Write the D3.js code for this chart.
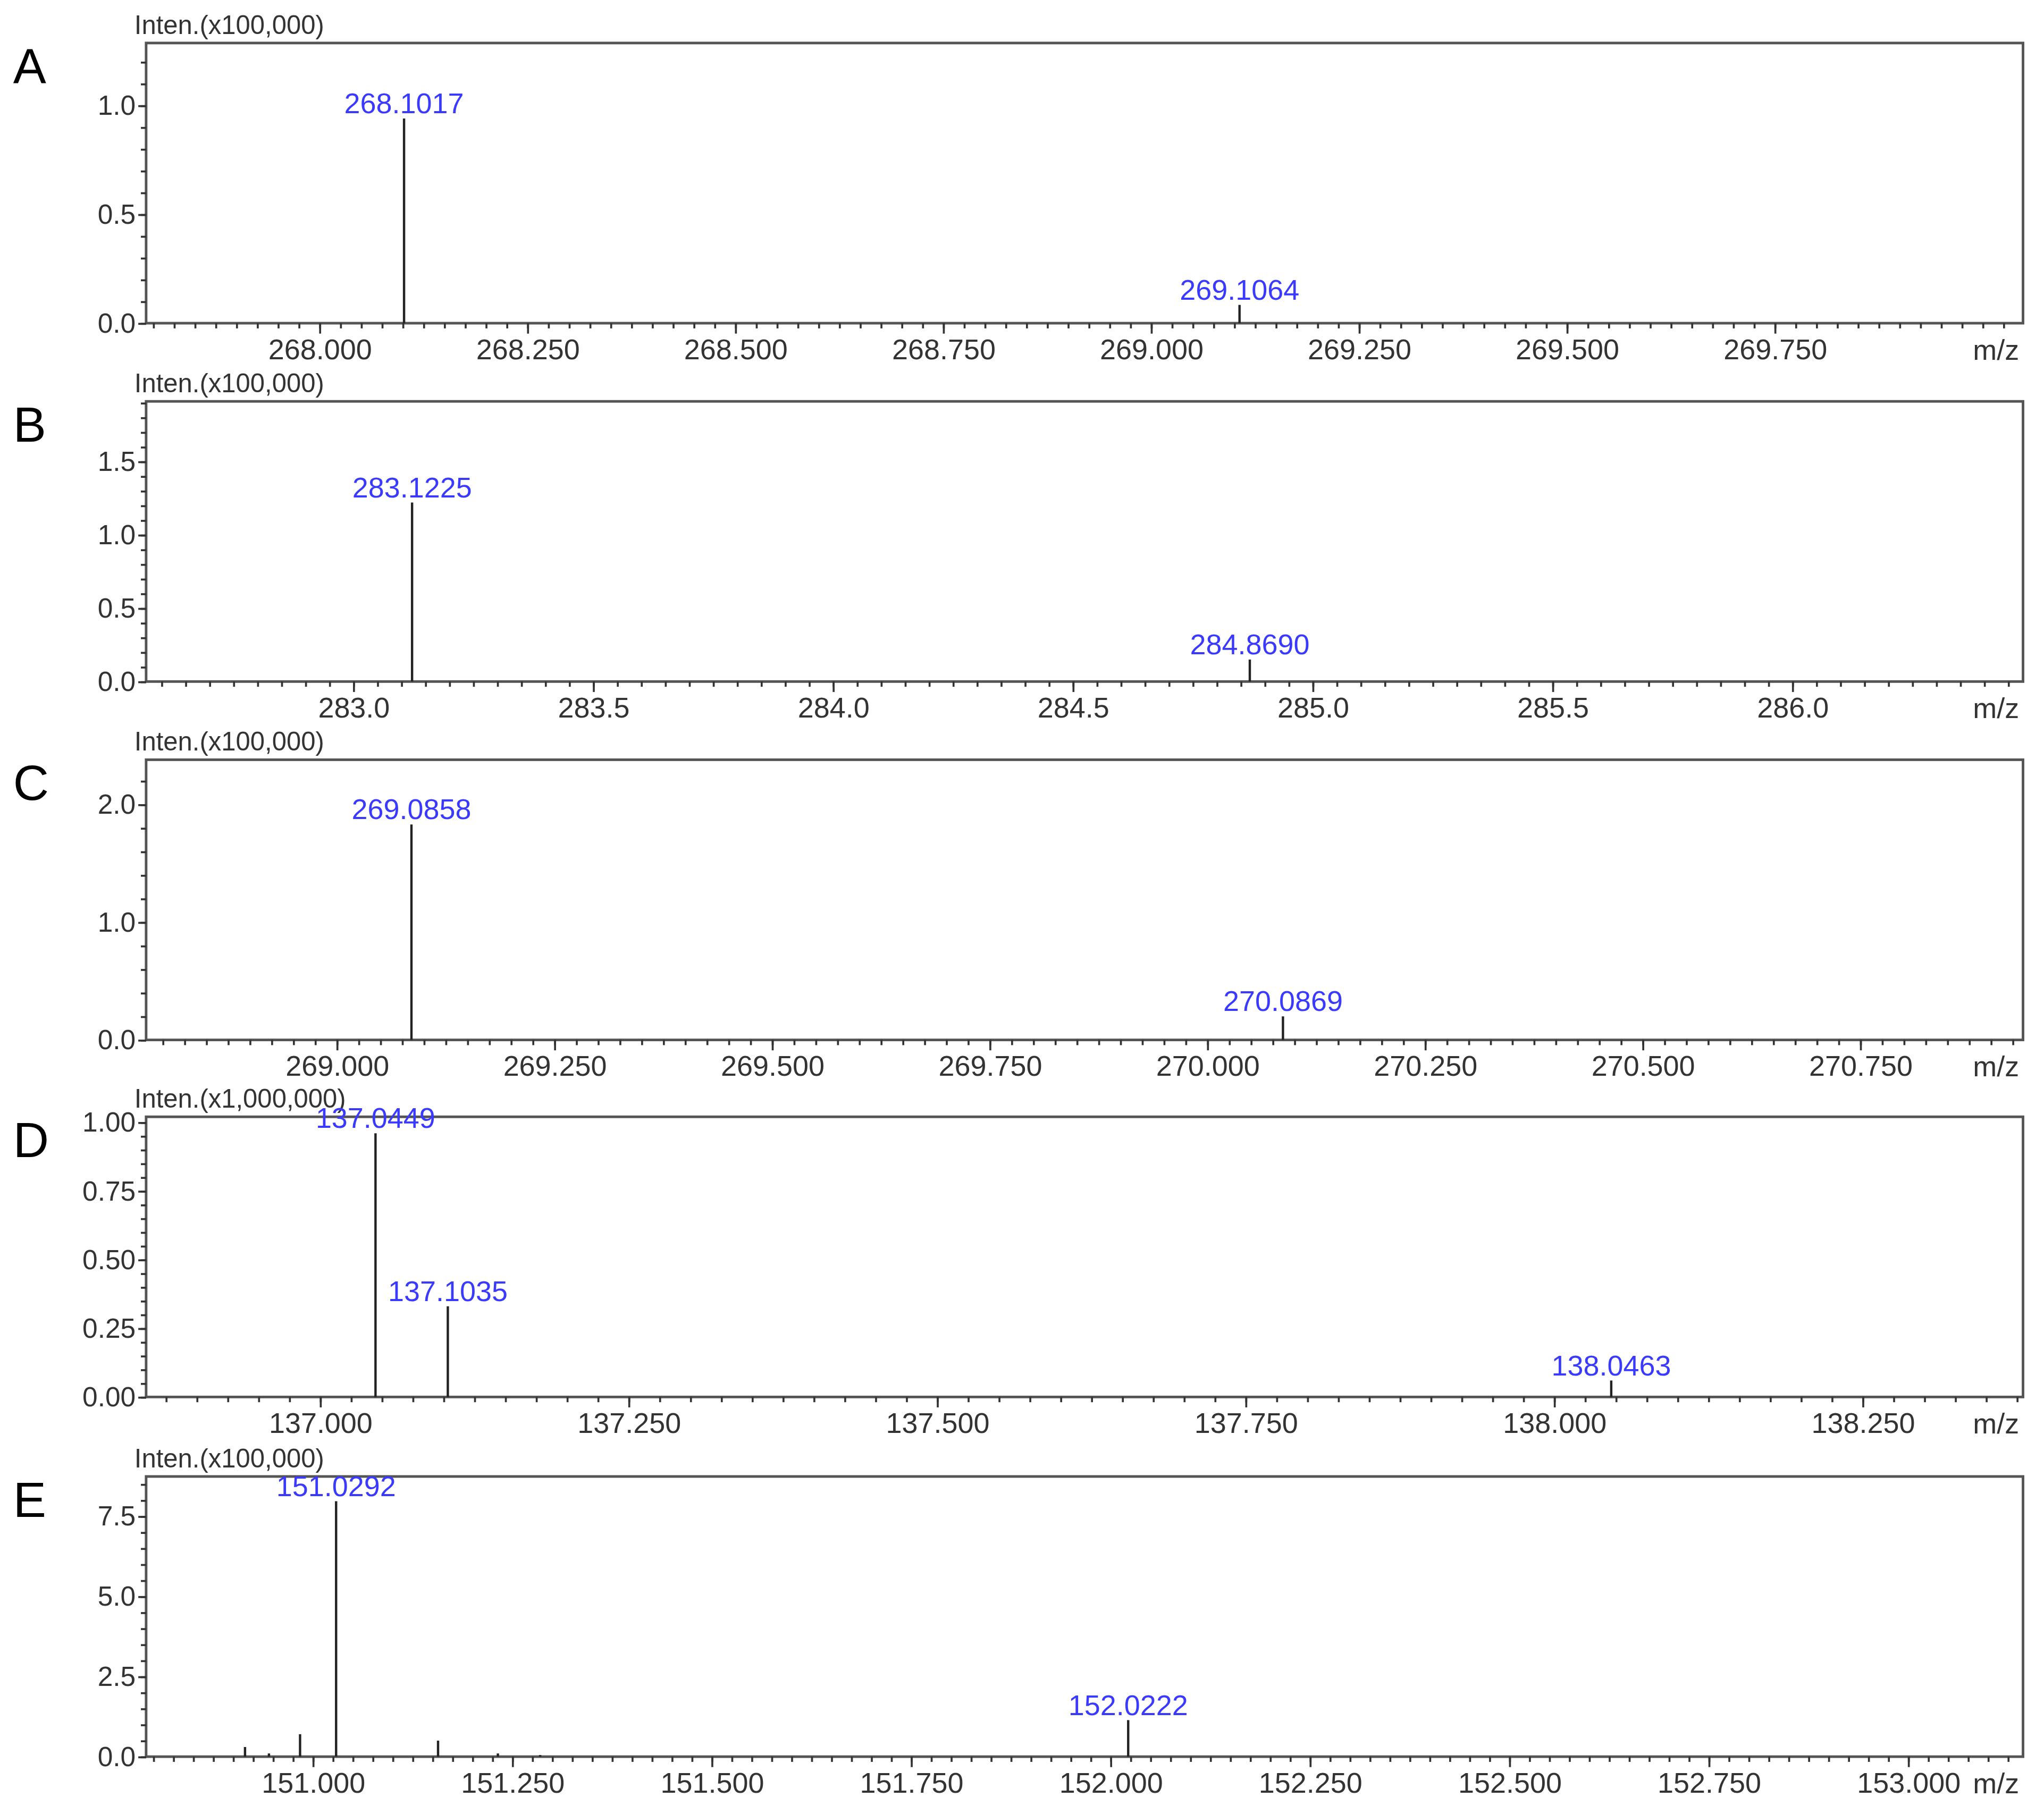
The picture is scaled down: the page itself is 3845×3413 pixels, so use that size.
<!DOCTYPE html>
<html><head><meta charset="utf-8">
<script src="https://cdn.jsdelivr.net/npm/d3@7"></script>
<style>body{margin:0;background:#fff}text{font-family:"Liberation Sans",Arial,sans-serif}</style>
</head><body>
<svg id="chart" width="3845" height="3413" viewBox="0 0 1568 1392"></svg>
<script>
// panel letters and intensity units
const panelNames = ['A', 'B', 'C', 'D', 'E'];
const intenUnits = ['Inten.(x100,000)', 'Inten.(x100,000)', 'Inten.(x100,000)', 'Inten.(x1,000,000)', 'Inten.(x100,000)'];

// x domains (m/z) and y domains
const xDomains = [[267.7915, 270.0486], [282.568, 286.481], [268.781, 270.937], [136.859, 138.380], [150.791, 153.144]];
const yDomains = [[0, 1.287], [0, 1.91], [0, 2.38], [0, 1.02], [0, 8.74]];
const xMajor = [[268, 268.25, 268.5, 268.75, 269, 269.25, 269.5, 269.75],
  [283, 283.5, 284, 284.5, 285, 285.5, 286],
  [269, 269.25, 269.5, 269.75, 270, 270.25, 270.5, 270.75],
  [137, 137.25, 137.5, 137.75, 138, 138.25],
  [151, 151.25, 151.5, 151.75, 152, 152.25, 152.5, 152.75, 153]];
const xMinorStep = [0.025, 0.05, 0.025, 0.025, 0.025];
const xFormat = ['.3f', '.1f', '.3f', '.3f', '.3f'];
const yMajor = [[0, 0.5, 1.0], [0, 0.5, 1.0, 1.5], [0, 1.0, 2.0], [0, 0.25, 0.5, 0.75, 1.0], [0, 2.5, 5.0, 7.5]];
const yMinorStep = [0.1, 0.1, 0.2, 0.05, 0.5];
const yFormat = ['.1f', '.1f', '.1f', '.2f', '.1f'];

// peaks: m/z, intensity, label (null = unlabelled)
const peaksA = [[268.1017, 0.94, '268.1017'], [269.1064, 0.084, '269.1064']];
const peaksB = [[283.1225, 1.22, '283.1225'], [284.8690, 0.15, '284.8690']];
const peaksC = [[269.0858, 1.83, '269.0858'], [270.0869, 0.2, '270.0869']];
const peaksD = [[137.0449, 0.96, '137.0449'], [137.1035, 0.33, '137.1035'], [138.0463, 0.06, '138.0463']];
const peaksE = [[150.915, 0.3, null], [150.945, 0.1, null], [150.984, 0.7, null], [151.0292, 7.97, '151.0292'],
  [151.157, 0.5, null], [151.232, 0.1, null], [151.285, 0.05, null], [152.0222, 1.14, '152.0222']];
const peaks = [peaksA, peaksB, peaksC, peaksD, peaksE];

const boxTops = [33, 308, 583, 857, 1133];
const boxH = 215;
const left = 112, right = 1552;
const ink = '#333';

const svg = d3.select('#chart');
svg.append('rect').attr('width', 1568).attr('height', 1392).attr('fill', '#fff');

panelNames.forEach((name, i) => {
  const top = boxTops[i], bottom = top + boxH;
  const x = d3.scaleLinear().domain(xDomains[i]).range([left, right]);
  const y = d3.scaleLinear().domain(yDomains[i]).range([bottom, top]);
  const g = svg.append('g');

  g.append('text').attr('x', 10).attr('y', top + 31).attr('font-size', 38).attr('fill', '#000').text(name);
  g.append('text').attr('x', 103).attr('y', top - 7).attr('font-size', 20).attr('fill', ink).text(intenUnits[i]);

  g.append('rect').attr('x', left).attr('y', top).attr('width', right - left).attr('height', boxH)
    .attr('fill', 'none').attr('stroke', '#555').attr('stroke-width', 2);

  // minor ticks
  const [x0, x1] = xDomains[i];
  const s = xMinorStep[i];
  const xMinor = d3.range(Math.ceil(x0 / s) * s, x1, s);
  g.append('g').attr('transform', `translate(0,${bottom})`)
    .call(d3.axisBottom(x).tickValues(xMinor).tickSize(4).tickFormat(''))
    .call(a => a.select('.domain').remove())
    .selectAll('line').attr('stroke', ink).attr('stroke-width', 1.5);
  const ys = yMinorStep[i];
  g.append('g').attr('transform', `translate(${left},0)`)
    .call(d3.axisLeft(y).tickValues(d3.range(0, yDomains[i][1], ys)).tickSize(4).tickFormat(''))
    .call(a => a.select('.domain').remove())
    .selectAll('line').attr('stroke', ink).attr('stroke-width', 1.5);

  // major axes
  const xa = g.append('g').attr('transform', `translate(0,${bottom})`)
    .call(d3.axisBottom(x).tickValues(xMajor[i]).tickSize(8).tickPadding(4).tickFormat(d3.format(xFormat[i])));
  xa.select('.domain').remove();
  xa.selectAll('line').attr('stroke', ink).attr('stroke-width', 1.5);
  xa.selectAll('text').attr('font-size', 22).attr('fill', ink).attr('font-family', '"Liberation Sans",Arial,sans-serif');
  g.append('text').attr('x', 1549).attr('y', bottom + 28).attr('text-anchor', 'end')
    .attr('font-size', 22).attr('fill', ink).text('m/z');

  const ya = g.append('g').attr('transform', `translate(${left},0)`)
    .call(d3.axisLeft(y).tickValues(yMajor[i]).tickSize(6).tickPadding(2).tickFormat(d3.format(yFormat[i])));
  ya.select('.domain').remove();
  ya.selectAll('line').attr('stroke', ink).attr('stroke-width', 1.5);
  ya.selectAll('text').attr('font-size', 21).attr('fill', ink).attr('font-family', '"Liberation Sans",Arial,sans-serif');

  // peaks
  g.selectAll('.pk').data(peaks[i]).join('line')
    .attr('x1', d => x(d[0])).attr('x2', d => x(d[0]))
    .attr('y1', y(0)).attr('y2', d => y(d[1]))
    .attr('stroke', '#222').attr('stroke-width', 1.8);
  g.selectAll('.lb').data(peaks[i].filter(d => d[2])).join('text')
    .attr('x', d => x(d[0])).attr('y', d => y(d[1]) - 4)
    .attr('text-anchor', 'middle').attr('font-size', 22).attr('fill', '#3a3aff').text(d => d[2]);
});
</script>
</body></html>
